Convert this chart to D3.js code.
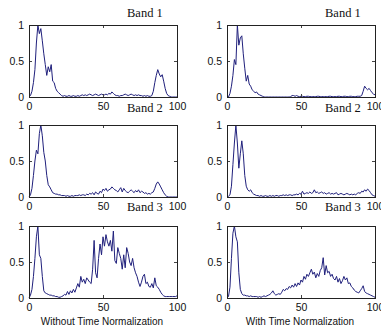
<!DOCTYPE html>
<html>
<head>
<meta charset="utf-8">
<script src="https://cdn.jsdelivr.net/npm/d3@7"></script>
<style>
  body { margin: 0; background: #fff; }
  svg { display: block; }
  .tick text { font-family: "Liberation Sans", Arial, sans-serif; font-size: 10.5px; fill: #111; }
</style>
</head>
<body>
<div id="chart"></div>
<script>
// amplitude per sample, index = x (0..100)
const band1Raw = [0, 0.02, 0.08, 0.2, 0.38, 0.75, 1.0, 0.88, 0.95, 0.78,
    0.6, 0.45, 0.3, 0.42, 0.35, 0.45, 0.22, 0.2, 0.12, 0.08,
    0.06, 0.04, 0.02, 0.01, 0.02, 0.01, 0.01, 0.02, 0.01, 0.01,
    0.02, 0.01, 0.01, 0.02, 0.01, 0.02, 0.03, 0.02, 0.03, 0.02,
    0.03, 0.04, 0.03, 0.02, 0.03, 0.04, 0.03, 0.02, 0.03, 0.04,
    0.03, 0.03, 0.04, 0.03, 0.05, 0.04, 0.07, 0.05, 0.03, 0.02,
    0.02, 0.01, 0.02, 0.02, 0.03, 0.04, 0.03, 0.02, 0.03, 0.04,
    0.03, 0.02, 0.03, 0.02, 0.03, 0.02, 0.02, 0.01, 0.02, 0.01,
    0.02, 0.01, 0.01, 0.02, 0.08, 0.2, 0.3, 0.38, 0.32, 0.28,
    0.31, 0.22, 0.12, 0.05, 0.02, 0.01, 0, 0, 0, 0,
    0];
const band2Raw = [0, 0.03, 0.12, 0.3, 0.5, 0.65, 0.6, 0.88, 1.0, 0.85,
    0.62, 0.5, 0.3, 0.17, 0.14, 0.1, 0.06, 0.05, 0.04, 0.04,
    0.03, 0.03, 0.02, 0.02, 0.02, 0.01, 0.02, 0.01, 0.01, 0.02,
    0.01, 0.02, 0.02, 0.02, 0.03, 0.02, 0.03, 0.03, 0.02, 0.04,
    0.03, 0.05, 0.04, 0.06, 0.03, 0.07, 0.05, 0.04, 0.08, 0.06,
    0.11, 0.09, 0.12, 0.08, 0.1, 0.11, 0.14, 0.12, 0.1, 0.09,
    0.07, 0.1, 0.13, 0.07, 0.12, 0.09, 0.07, 0.06, 0.08, 0.1,
    0.08, 0.06, 0.09, 0.07, 0.1, 0.06, 0.08, 0.07, 0.05, 0.06,
    0.04, 0.05, 0.04, 0.06, 0.07, 0.12, 0.18, 0.21, 0.18, 0.14,
    0.1, 0.06, 0.03, 0.01, 0, 0, 0, 0, 0, 0,
    0];
const band3Raw = [0, 0.04, 0.12, 0.3, 0.55, 0.85, 1.0, 0.6, 0.55, 0.3,
    0.1, 0.07, 0.06, 0.05, 0.04, 0.04, 0.03, 0.03, 0.02, 0.02,
    0.01, 0.01, 0.02, 0.03, 0.05, 0.04, 0.09, 0.05, 0.1, 0.07,
    0.12, 0.08, 0.14, 0.2, 0.15, 0.3, 0.22, 0.26, 0.2, 0.28,
    0.25, 0.22, 0.2, 0.4, 0.8, 0.35, 0.28, 0.55, 0.75, 0.6,
    0.85, 0.72, 0.88, 0.78, 0.72, 0.8, 0.65, 0.93, 0.52, 0.48,
    0.7, 0.62, 0.55, 0.4, 0.6, 0.42, 0.7, 0.62, 0.5, 0.45,
    0.55, 0.42, 0.35, 0.3, 0.22, 0.16, 0.22, 0.3, 0.33, 0.2,
    0.22, 0.16, 0.15, 0.2, 0.14, 0.28, 0.17, 0.15, 0.12, 0.08,
    0.05, 0.03, 0.02, 0.02, 0.02, 0.02, 0.02, 0.02, 0.02, 0.02,
    0.03];
const band1Norm = [0, 0, 0.05, 0.15, 0.3, 0.52, 0.45, 1.0, 0.72, 0.82,
    0.85, 0.6, 0.4, 0.22, 0.3, 0.18, 0.15, 0.1, 0.08, 0.06,
    0.07, 0.04, 0.03, 0.02, 0.01, 0, 0, 0, 0, 0,
    0, 0, 0, 0, 0, 0, 0, 0, 0, 0,
    0, 0, 0, 0.005, 0.02, 0.02, 0.01, 0.02, 0.01, 0.005,
    0.01, 0.01, 0.005, 0.005, 0.01, 0.01, 0.005, 0.005, 0.005, 0.005,
    0.005, 0.01, 0.01, 0.005, 0.005, 0.005, 0.005, 0.005, 0.005, 0.01,
    0.01, 0.005, 0.005, 0.005, 0.005, 0.01, 0.01, 0.005, 0.005, 0.01,
    0.01, 0.005, 0.005, 0.01, 0.01, 0.005, 0.005, 0.005, 0.01, 0.01,
    0.01, 0.02, 0.08, 0.15, 0.12, 0.1, 0.12, 0.09, 0.06, 0.04,
    0.03];
const band2Norm = [0, 0.01, 0.03, 0.15, 0.45, 0.75, 1.0, 0.75, 0.4, 0.6,
    0.78, 0.6, 0.3, 0.15, 0.1, 0.08, 0.1, 0.06, 0.04, 0.03,
    0.02, 0.02, 0.01, 0.02, 0.01, 0.01, 0.02, 0.01, 0.01, 0.02,
    0.01, 0.02, 0.01, 0.02, 0.02, 0.01, 0.02, 0.02, 0.03, 0.02,
    0.03, 0.02, 0.03, 0.03, 0.02, 0.03, 0.03, 0.04, 0.03, 0.05,
    0.04, 0.08, 0.04, 0.05, 0.06, 0.05, 0.07, 0.05, 0.06, 0.1,
    0.06, 0.07, 0.05, 0.06, 0.07, 0.05, 0.06, 0.04, 0.05, 0.06,
    0.04, 0.05, 0.04, 0.05, 0.06, 0.03, 0.04, 0.05, 0.04, 0.03,
    0.04, 0.05, 0.04, 0.03, 0.04, 0.03, 0.04, 0.03, 0.05, 0.06,
    0.05, 0.08, 0.07, 0.1, 0.08, 0.11, 0.09, 0.06, 0.03, 0.02,
    0.01];
const band3Norm = [0, 0.02, 0.15, 0.55, 0.9, 1.0, 0.85, 0.78, 0.35, 0.12,
    0.06, 0.04, 0.04, 0.03, 0.03, 0.02, 0.03, 0.02, 0.02, 0.02,
    0.02, 0.01, 0.02, 0.01, 0.02, 0.03, 0.02, 0.03, 0.04, 0.05,
    0.07, 0.1, 0.06, 0.04, 0.05, 0.06, 0.05, 0.08, 0.12, 0.1,
    0.13, 0.12, 0.16, 0.14, 0.18, 0.15, 0.2, 0.16, 0.21, 0.18,
    0.25, 0.22, 0.3, 0.26, 0.33, 0.3, 0.35, 0.4, 0.33, 0.36,
    0.28, 0.34, 0.3, 0.38, 0.42, 0.56, 0.32, 0.45, 0.35, 0.37,
    0.3, 0.33, 0.27, 0.25, 0.3, 0.22, 0.27, 0.2, 0.24, 0.3,
    0.25, 0.28, 0.2, 0.21, 0.16, 0.14, 0.11, 0.09, 0.08, 0.07,
    0.1, 0.13, 0.17, 0.09, 0.07, 0.06, 0.05, 0.04, 0.03, 0.02,
    0.01];

const bandTitles = ["Band 1", "Band 2", "Band 3"];
const columnLabels = ["Without Time Normalization", "With Time Normalization"];
const xTicks = [0, 50, 100];
const yTicks = [0, 0.5, 1];

const columns = [
    [band1Raw, band2Raw, band3Raw],
    [band1Norm, band2Norm, band3Norm]
];

const width = 381, height = 332;
const colLeft = [29, 227], rowTop = [25, 125, 226];
const pw = 148, ph = 72;
const titleGap = [8, 13, 15];
const lineColor = "#20207c";

const svg = d3.select("#chart").append("svg")
    .attr("width", width)
    .attr("height", height);

const x = d3.scaleLinear().domain([0, 100]).range([0, pw]);
const y = d3.scaleLinear().domain([0, 1]).range([ph, 0]);

const line = d3.line()
    .x((d, i) => x(i))
    .y(d => y(d));

columns.forEach((col, c) => {
    col.forEach((series, r) => {
        const g = svg.append("g")
            .attr("transform", `translate(${colLeft[c]},${rowTop[r]})`);

        g.append("path")
            .datum(series)
            .attr("fill", "none")
            .attr("stroke", lineColor)
            .attr("stroke-width", 1)
            .attr("stroke-linejoin", "round")
            .attr("d", line);

        // matlab style box with inward ticks on all four sides
        const bottom = g.append("g").attr("transform", `translate(0,${ph})`)
            .call(d3.axisBottom(x).tickValues(xTicks).tickSizeInner(-3).tickSizeOuter(0).tickPadding(6));
        const top = g.append("g")
            .call(d3.axisTop(x).tickValues(xTicks).tickSizeInner(-3).tickSizeOuter(0).tickFormat(""));
        const left = g.append("g")
            .call(d3.axisLeft(y).tickValues(yTicks).tickSizeInner(-3).tickSizeOuter(0).tickPadding(5).tickFormat(d3.format("")));
        const right = g.append("g").attr("transform", `translate(${pw},0)`)
            .call(d3.axisRight(y).tickValues(yTicks).tickSizeInner(-3).tickSizeOuter(0).tickFormat(""));
        [bottom, top, left, right].forEach(a => {
            a.select(".domain").remove();
            a.selectAll("line").attr("stroke", "#444");
        });

        g.append("rect")
            .attr("width", pw)
            .attr("height", ph)
            .attr("fill", "none")
            .attr("stroke", "#222")
            .attr("stroke-width", 1)
            .attr("shape-rendering", "crispEdges");

        svg.append("text")
            .attr("x", colLeft[c] + 98)
            .attr("y", rowTop[r] - titleGap[r])
            .attr("font-family", "'Liberation Serif', 'Times New Roman', serif")
            .attr("font-size", 12.5)
            .attr("fill", "#111")
            .text(bandTitles[r]);
    });

    svg.append("text")
        .attr("x", colLeft[c] + pw / 2 - 1)
        .attr("y", 325)
        .attr("text-anchor", "middle")
        .attr("font-family", "'Liberation Sans', Arial, sans-serif")
        .attr("font-size", 10)
        .attr("fill", "#111")
        .text(columnLabels[c]);
});
</script>
</body>
</html>
